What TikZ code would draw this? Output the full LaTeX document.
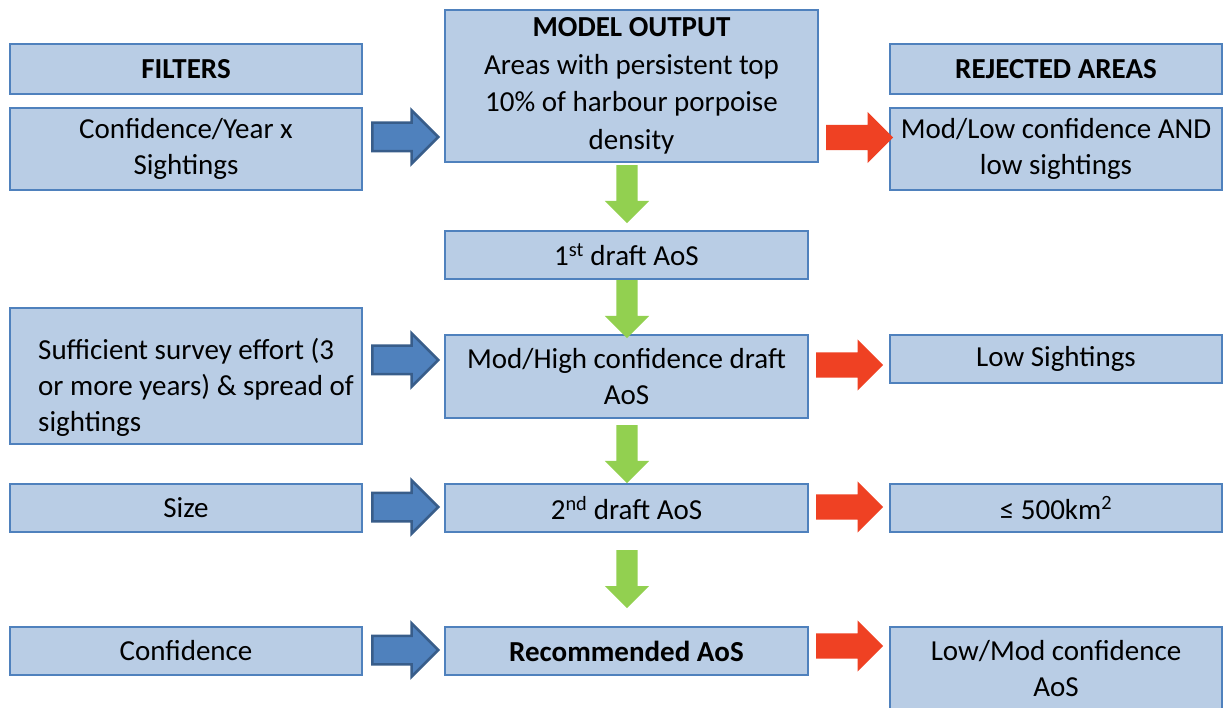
\documentclass[tikz,border=0pt]{standalone}
\usepackage{fontspec}
\setmainfont{Carlito}
\usetikzlibrary{shapes.arrows}
\definecolor{boxfill}{HTML}{B9CDE5}
\definecolor{boxline}{HTML}{4F81BD}
\definecolor{bluearr}{HTML}{4F81BD}
\definecolor{bluearrline}{HTML}{385D8A}
\definecolor{redarr}{HTML}{EF4123}
\definecolor{greenarr}{HTML}{92D050}
\begin{document}
\begin{tikzpicture}[x=1pt,y=-1pt,
  box/.style={draw=boxline, fill=boxfill, line width=2pt, inner sep=0pt, align=center,
    font=\fontsize{29}{36}\selectfont},
  txt/.style={inner sep=0pt, font=\fontsize{29}{36}\selectfont},
  bluearrow/.style={single arrow, single arrow tip angle=90, inner xsep=0pt, inner ysep=13pt,
    single arrow head extend=12.5pt, minimum height=66pt, fill=bluearr, draw=bluearrline,
    line width=2.5pt, anchor=tail},
  redarrow/.style={single arrow, single arrow tip angle=90, inner xsep=0pt, inner ysep=12.5pt,
    single arrow head extend=13pt, minimum height=67pt, fill=redarr, anchor=tail},
  greenarrow/.style={single arrow, single arrow tip angle=90, inner xsep=0pt, inner ysep=10.5pt,
    single arrow head extend=11.5pt, minimum height=58pt, fill=greenarr, rotate=-90, anchor=tail}
]
\useasboundingbox (0,0) rectangle (1224,708);
\fill[white] (0,0) rectangle (1224,708);

% left column
\node[box, minimum width=352pt, minimum height=50pt] (filters) at (186,69) {\textbf{FILTERS}};
\node[box, minimum width=352pt, minimum height=82pt] (conf1) at (186,149) {Confidence/Year x\\Sightings};
\node[box, minimum width=352pt, minimum height=136pt] (suff) at (186,376) {};
\node[txt, anchor=west, align=left] (sufftext) at (38,387) {Sufficient survey effort (3\\or more years) \& spread of\\sightings};
\node[box, minimum width=352pt, minimum height=48pt] (size) at (186,508) {Size};
\node[box, minimum width=352pt, minimum height=48pt] (conf) at (186,651) {Confidence};

% middle column
\node[box, minimum width=373pt, minimum height=152pt, font=\fontsize{29}{37.5}\selectfont] (model) at (631.5,86)
  {\textbf{MODEL OUTPUT}\\Areas with persistent top\\10\% of harbour porpoise\\density};
\node[box, minimum width=363pt, minimum height=48pt] (draft1) at (626.5,255) {1\textsuperscript{st} draft AoS};
\node[box, minimum width=363pt, minimum height=83pt] (modhigh) at (626.5,376.5) {Mod/High confidence draft\\AoS};
\node[box, minimum width=363pt, minimum height=48pt] (draft2) at (626.5,508) {2\textsuperscript{nd} draft AoS};
\node[box, minimum width=363pt, minimum height=48pt] (rec) at (626.5,651) {\textbf{Recommended AoS}};

% right column
\node[box, minimum width=332pt, minimum height=50pt] (rej) at (1056,69) {\textbf{REJECTED AREAS}};
\node[box, minimum width=332pt, minimum height=82pt] (modlow) at (1056,149) {Mod/Low confidence AND\\low sightings};
\node[box, minimum width=332pt, minimum height=48pt] (lowsight) at (1056,359) {Low Sightings};
\node[box, minimum width=332pt, minimum height=48pt] (le500) at (1056,508) {≤ 500km\textsuperscript{2}};
\node[box, minimum width=332pt, minimum height=92pt] (lowmod) at (1056,673) {};
\node[txt, align=center] (lowmodtext) at (1056,668.5) {Low/Mod confidence\\AoS};

% blue arrows (filters -> flow)
\node[bluearrow] (b1) at (371,137) {};
\node[bluearrow] (b2) at (371,360) {};
\node[bluearrow] (b3) at (371,507) {};
\node[bluearrow] (b4) at (371,650) {};

% red arrows (flow -> rejected)
\node[redarrow] (r1) at (826,137.5) {};
\node[redarrow] (r2) at (816,365) {};
\node[redarrow] (r3) at (816,507) {};
\node[redarrow] (r4) at (816,646) {};

% green arrows (down the flow)
\node[greenarrow] (g1) at (627,165) {};
\node[greenarrow] (g2) at (627,280) {};
\node[greenarrow] (g3) at (627,425) {};
\node[greenarrow] (g4) at (627,550) {};
\end{tikzpicture}
\end{document}
